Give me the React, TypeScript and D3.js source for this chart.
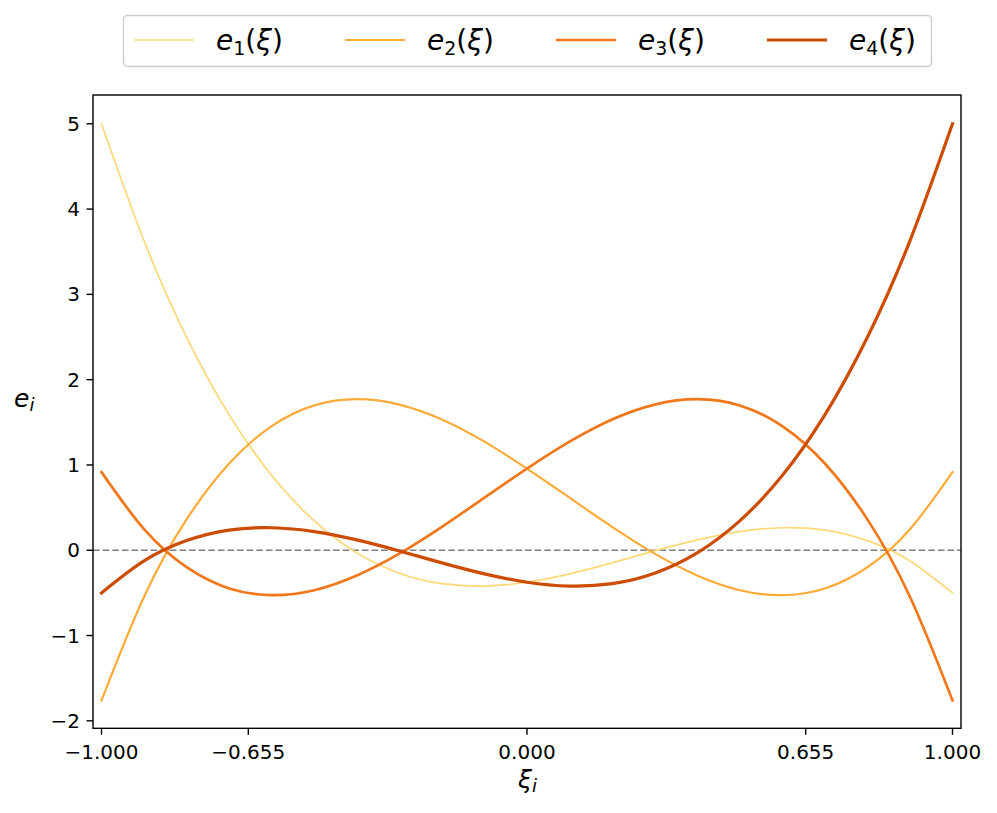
import React from "react";
import * as d3 from "d3";

const xi = [-1, -0.9, -0.8, -0.7, -0.6, -0.5, -0.4, -0.3, -0.2, -0.1, 0, 0.1, 0.2, 0.3, 0.4, 0.5, 0.6, 0.7, 0.8, 0.9, 1];
const e1 = [5, 3.628, 2.497, 1.587, 0.876, 0.344, -0.031, -0.269, -0.392, -0.42, -0.375, -0.277, -0.148, -0.008, 0.121, 0.219, 0.264, 0.236, 0.113, -0.125, -0.5];
const e2 = [-1.76, -0.545, 0.362, 1.017, 1.455, 1.698, 1.772, 1.708, 1.533, 1.273, 0.957, 0.616, 0.274, -0.04, -0.296, -0.469, -0.527, -0.448, -0.199, 0.247, 0.916];
const e3 = [0.916, 0.247, -0.199, -0.448, -0.527, -0.469, -0.296, -0.04, 0.274, 0.616, 0.957, 1.273, 1.533, 1.708, 1.772, 1.698, 1.455, 1.017, 0.362, -0.545, -1.76];
const e4 = [-0.5, -0.125, 0.113, 0.236, 0.264, 0.219, 0.121, -0.008, -0.148, -0.277, -0.375, -0.42, -0.392, -0.269, -0.031, 0.344, 0.876, 1.587, 2.497, 3.628, 5];

const seriesNames = ["1", "2", "3", "4"];
const seriesColors = ["#fed777", "#feaa38", "#f0781a", "#cc4c02"];
const seriesWidths = [1.7, 2.2, 2.7, 3.2];

const xTicks = [-1, -0.655, 0, 0.655, 1];
const xTickLabels = ["\u22121.000", "\u22120.655", "0.000", "0.655", "1.000"];
const yTicks = [-2, -1, 0, 1, 2, 3, 4, 5];

const W = 997;
const H = 813;
const plot = { left: 93, right: 961, top: 95, bottom: 728.3 };
const FONT = "DejaVu Sans, sans-serif";

export default function App() {
  const x = d3.scaleLinear().domain([-1.02, 1.02]).range([plot.left, plot.right]);
  const y = d3.scaleLinear().domain([-2.0875, 5.3375]).range([plot.bottom, plot.top]);
  const series = [e1, e2, e3, e4];
  const line = d3
    .line<number>()
    .x((_, i) => x(xi[i]))
    .y((d) => y(d))
    .curve(d3.curveNatural);

  const legendX0 = 134;
  const legendStep = 211;
  const legendY = 40;

  return (
    <svg
      width={W}
      height={H}
      style={{ position: "absolute", left: 0, top: 0, background: "#fff" }}
      fontFamily={FONT}
    >
      <rect x={0} y={0} width={W} height={H} fill="#fff" />
      <line
        x1={plot.left}
        x2={plot.right}
        y1={y(0)}
        y2={y(0)}
        stroke="#808080"
        strokeWidth={1.5}
        strokeDasharray="6.7,2.9"
      />
      {series.map((s, i) => (
        <path
          key={i}
          d={line(s) || ""}
          fill="none"
          stroke={seriesColors[i]}
          strokeWidth={seriesWidths[i]}
          strokeLinecap="square"
        />
      ))}
      <rect
        x={plot.left}
        y={plot.top}
        width={plot.right - plot.left}
        height={plot.bottom - plot.top}
        fill="none"
        stroke="#000"
        strokeWidth={1.4}
      />
      {xTicks.map((t, i) => (
        <g key={"xt" + i}>
          <line x1={x(t)} x2={x(t)} y1={plot.bottom} y2={plot.bottom + 6.5} stroke="#000" strokeWidth={1.4} />
          <text x={x(t)} y={758.5} fontSize={20} textAnchor="middle" fill="#000">
            {xTickLabels[i]}
          </text>
        </g>
      ))}
      {yTicks.map((t, i) => (
        <g key={"yt" + i}>
          <line x1={plot.left - 6.5} x2={plot.left} y1={y(t)} y2={y(t)} stroke="#000" strokeWidth={1.4} />
          <text x={80} y={y(t) + 7} fontSize={20} textAnchor="end" fill="#000">
            {t < 0 ? "\u2212" + Math.abs(t) : String(t)}
          </text>
        </g>
      ))}
      <text x={518} y={788} fontSize={25} fill="#000">
        <tspan fontStyle="italic">ξ</tspan>
        <tspan fontStyle="italic" fontSize={18} dy={4}>i</tspan>
      </text>
      <text x={14} y={407} fontSize={25} fill="#000">
        <tspan fontStyle="italic">e</tspan>
        <tspan fontStyle="italic" fontSize={18} dy={4}>i</tspan>
      </text>
      <rect x={123.5} y={15.5} width={808} height={51} rx={4} ry={4} fill="#fff" fillOpacity={0.8} stroke="#cccccc" strokeWidth={1.4} />
      {seriesNames.map((n, i) => (
        <g key={"lg" + i}>
          <line
            x1={legendX0 + i * legendStep}
            x2={legendX0 + i * legendStep + 60}
            y1={legendY}
            y2={legendY}
            stroke={seriesColors[i]}
            strokeWidth={seriesWidths[i]}
          />
          <text x={legendX0 + i * legendStep + 82} y={50} fontSize={28} fill="#000">
            <tspan fontStyle="italic">e</tspan>
            <tspan fontSize={19} dy={5}>{n}</tspan>
            <tspan dy={-5}>(</tspan>
            <tspan fontStyle="italic">ξ</tspan>
            <tspan>)</tspan>
          </text>
        </g>
      ))}
    </svg>
  );
}
